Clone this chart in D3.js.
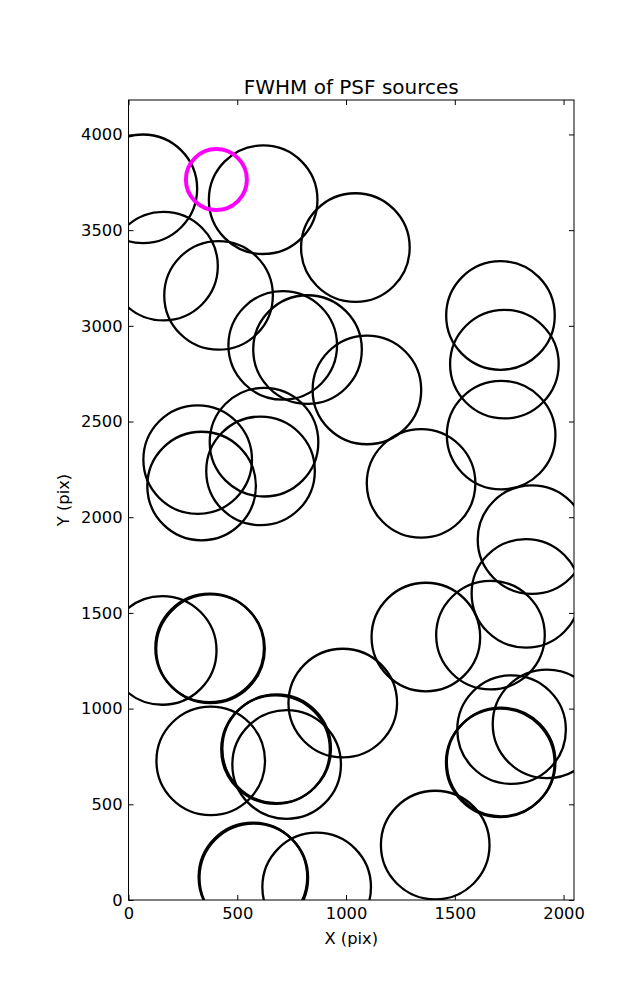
<!DOCTYPE html>
<html>
<head>
<meta charset="utf-8">
<script src="https://cdn.jsdelivr.net/npm/d3@7"></script>
<style>
  body { margin: 0; background: #fff; }
  svg { display: block; }
  text { font-family: "DejaVu Sans", sans-serif; fill: #000; }
</style>
</head>
<body>
<svg id="chart" width="637" height="1000"></svg>
<script>
// Source positions (pixel coordinates on detector)
const srcX = [66, 161, 414, 619, 1043, 1710, 1728, 1713, 1855, 1827, 1664, 1367, 1345, 1096,
              709, 823, 318, 336, 623, 607, 155, 373, 377, 985, 378, 676, 681, 727, 572, 576,
              865, 1410, 1761, 1709, 1713, 1924];
const srcY = [3716, 3312, 3159, 3659, 3409, 3054, 2800, 2429, 1883, 1602, 1384, 1374, 2177, 2665,
              2898, 2876, 2301, 2163, 2392, 2242, 1304, 1317, 1313, 1029, 727, 786, 790, 708, 120, 116,
              68, 287, 890, 717, 721, 920];
// Highlighted source
const hiX = [404];
const hiY = [3764];

const xTicks = [0, 500, 1000, 1500, 2000];
const yTicks = [0, 500, 1000, 1500, 2000, 2500, 3000, 3500, 4000];
const xDomain = [0, 2048];
const yDomain = [0, 4180];

const svg = d3.select("#chart");
const L = 128.5, R = 574, T = 100, B = 900;
const x = d3.scaleLinear().domain(xDomain).range([L, R]);
const y = d3.scaleLinear().domain(yDomain).range([B, T]);

svg.append("defs").append("clipPath").attr("id", "clip")
  .append("rect").attr("x", L).attr("y", T).attr("width", R - L).attr("height", B - T);

const g = svg.append("g").attr("clip-path", "url(#clip)");
const pts = srcX.map((v, i) => ({x: v, y: srcY[i]}));
g.selectAll("circle.src").data(pts).enter().append("circle")
  .attr("class", "src")
  .attr("cx", d => x(d.x)).attr("cy", d => y(d.y)).attr("r", 54.3)
  .attr("fill", "none").attr("stroke", "#000").attr("stroke-width", 2.3);

const hpts = hiX.map((v, i) => ({x: v, y: hiY[i]}));
g.selectAll("circle.hi").data(hpts).enter().append("circle")
  .attr("class", "hi")
  .attr("cx", d => x(d.x)).attr("cy", d => y(d.y)).attr("r", 30.5)
  .attr("fill", "none").attr("stroke", "#ff00ff").attr("stroke-width", 4);

// Axes (ticks inward, all four sides)
const tl = 5;
const fs = "16.3px";
const axB = svg.append("g").attr("transform", `translate(0,${B})`)
  .call(d3.axisBottom(x).tickValues(xTicks).tickSizeInner(-tl).tickSizeOuter(0).tickPadding(7).tickFormat(d3.format("d")));
const axT = svg.append("g").attr("transform", `translate(0,${T})`)
  .call(d3.axisTop(x).tickValues(xTicks).tickSizeInner(-tl).tickSizeOuter(0).tickFormat(""));
const axL = svg.append("g").attr("transform", `translate(${L},0)`)
  .call(d3.axisLeft(y).tickValues(yTicks).tickSizeInner(-tl).tickSizeOuter(0).tickPadding(6).tickFormat(d3.format("d")));
const axR = svg.append("g").attr("transform", `translate(${R},0)`)
  .call(d3.axisRight(y).tickValues(yTicks).tickSizeInner(-tl).tickSizeOuter(0).tickFormat(""));
[axB, axT, axL, axR].forEach(a => {
  a.select(".domain").remove();
  a.selectAll("line").attr("stroke", "#000").attr("stroke-width", 1);
  a.selectAll("text").style("font-family", "DejaVu Sans, sans-serif").style("font-size", fs).attr("fill", "#000");
});
axB.selectAll("text").attr("dy", "0.71em");

svg.append("rect").attr("x", L).attr("y", T).attr("width", R - L).attr("height", B - T)
  .attr("fill", "none").attr("stroke", "#000").attr("stroke-width", 1);

svg.append("text").attr("x", (L + R) / 2).attr("y", 94).attr("text-anchor", "middle")
  .style("font-size", "20px").text("FWHM of PSF sources");
svg.append("text").attr("x", (L + R) / 2).attr("y", 944).attr("text-anchor", "middle")
  .style("font-size", fs).text("X (pix)");
svg.append("text").attr("transform", `translate(69,${(T + B) / 2}) rotate(-90)`).attr("text-anchor", "middle")
  .style("font-size", fs).text("Y (pix)");
</script>
</body>
</html>
